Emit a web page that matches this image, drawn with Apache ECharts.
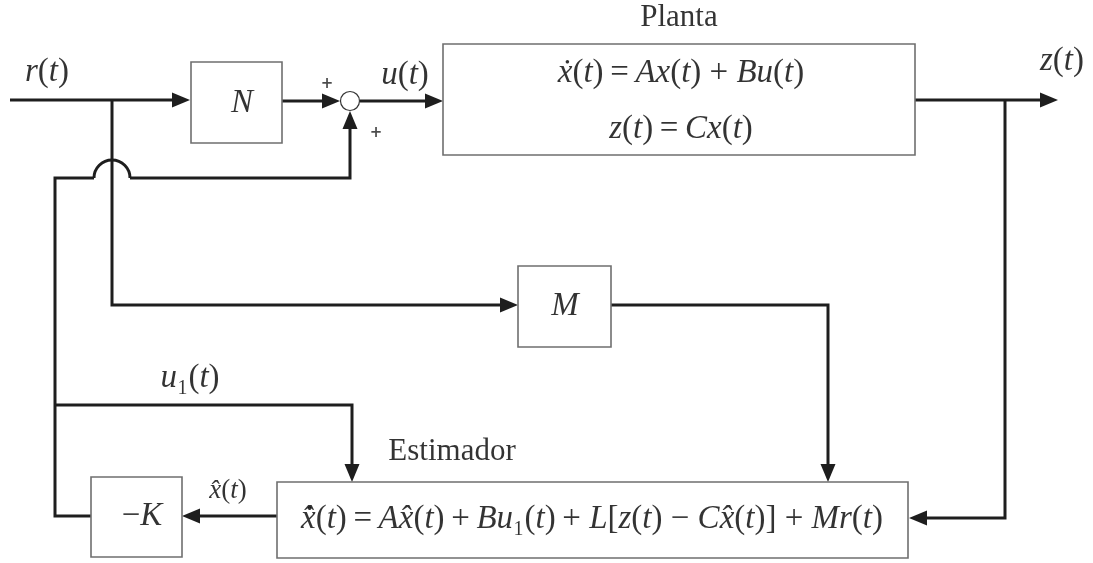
<!DOCTYPE html>
<html>
<head>
<meta charset="utf-8">
<script src="https://cdn.jsdelivr.net/npm/echarts@6/dist/echarts.min.js"></script>
<style>html,body{margin:0;padding:0;background:#fff}#c{width:1093px;height:563px}</style>
</head>
<body>
<div id="c"></div>
<script>
// ---- diagram data (in diagram coordinates, px-like units, y downward) ----
const blocks = [            // [x0, y0, x1, y1]
  [191, 62, 282, 143],      // N
  [443, 44, 915, 155],      // Planta
  [518, 266, 611, 347],     // M
  [91, 477, 182, 557],      // -K
  [277, 482, 908, 558]      // Estimador
];
const junctions = [[350, 101, 9.5]];   // summing point [cx, cy, r]
const hops = [[112, 178, 18]];         // wire crossing arc [cx, cy, r]
const wires = [                         // polylines; arrow = arrowhead at last point
  { pts: [[10, 100], [190, 100]], arrow: true },
  { pts: [[282, 101], [340, 101]], arrow: true },
  { pts: [[360, 101], [443, 101]], arrow: true },
  { pts: [[915, 100], [1058, 100]], arrow: true },
  { pts: [[1005, 100], [1005, 518], [909, 518]], arrow: true },
  { pts: [[112, 100], [112, 305], [518, 305]], arrow: true },
  { pts: [[611, 305], [828, 305], [828, 482]], arrow: true },
  { pts: [[277, 516], [182, 516]], arrow: true },
  { pts: [[91, 516], [55, 516], [55, 178], [94, 178]], arrow: false },
  { pts: [[130, 178], [350, 178], [350, 111]], arrow: true },
  { pts: [[55, 405], [352, 405], [352, 482]], arrow: true }
];
const TS = '\u2009';
const labelTexts = ['r(t)', 'N', '+', '+', 'u(t)', 'Planta',
  '\u1E8B(t)' + TS + '=' + TS + 'Ax(t) + Bu(t)', 'z(t)' + TS + '=' + TS + 'Cx(t)',
  'z(t)', 'M', 'u\u2081(t)', 'Estimador', 'x\u0302(t)', '\u2212K',
  'x\u0302\u0307(t)' + TS + '=' + TS + 'Ax\u0302(t)' + TS + '+' + TS + 'Bu\u2081(t)' + TS + '+ L[z(t) \u2212 Cx\u0302(t)] + Mr(t)'];
const labelPos = [[47, 72], [242, 103], [327, 84], [376, 133], [405, 75], [679, 18], [681, 73], [681, 129],
  [1062, 61], [565, 306], [190, 378], [452, 452], [228, 491], [142, 516], [592, 519]];
const labelKind = ['math', 'math', 'plus', 'plus', 'math', 'word', 'math', 'math',
  'math', 'math', 'math', 'word', 'mathS', 'math', 'math'];

// ---- rendering ----
const INK = '#1e1e1e', BOX = '#6f6f6f';
const SERIF = 'Liberation Serif';
const sizes = { math: 33, mathS: 27, word: 31, plus: 15 };

function mathRich(s) {
  let out = '', cur = null, buf = '';
  for (const ch of s) {
    const t = /[A-Za-z\u1E8B\u0300-\u036F]/.test(ch) ? 'i' : 'n';
    if (t !== cur) { if (buf) out += '{' + cur + '|' + buf + '}'; cur = t; buf = ''; }
    buf += ch;
  }
  if (buf) out += '{' + cur + '|' + buf + '}';
  return out;
}

const labelData = labelTexts.map((t, i) => {
  const k = labelKind[i], fs = sizes[k];
  let label;
  if (k === 'plus') {
    label = { formatter: t, fontSize: fs, fontWeight: 'bold', fontFamily: 'DejaVu Sans', color: INK };
  } else if (k === 'word') {
    label = { formatter: t, fontSize: fs, fontFamily: SERIF, color: '#000' };
  } else {
    label = {
      formatter: mathRich(t),
      rich: {
        i: { fontSize: fs, fontStyle: 'italic', fontFamily: SERIF, color: '#000' },
        n: { fontSize: fs, fontFamily: SERIF, color: '#000' }
      }
    };
  }
  return { value: labelPos[i], label: Object.assign({ show: true, position: 'inside' }, label) };
});

const AL = 18, AW = 7.5;
function wireItem(params, api) {
  const w = wires[params.dataIndex];
  const pts = w.pts.map(p => api.coord(p));
  const children = [];
  if (w.arrow) {
    const n = pts.length, tip = pts[n - 1], prev = pts[n - 2];
    const dx = tip[0] - prev[0], dy = tip[1] - prev[1], L = Math.hypot(dx, dy);
    const ux = dx / L, uy = dy / L;
    const bx = tip[0] - ux * AL, by = tip[1] - uy * AL;
    pts[n - 1] = [bx + ux * 2, by + uy * 2];
    children.push({ type: 'polyline', shape: { points: pts }, style: { stroke: INK, lineWidth: 3, fill: null, lineJoin: 'miter' } });
    children.push({ type: 'polygon', shape: { points: [tip, [bx - uy * AW, by + ux * AW], [bx + uy * AW, by - ux * AW]] }, style: { fill: INK } });
  } else {
    children.push({ type: 'polyline', shape: { points: pts }, style: { stroke: INK, lineWidth: 3, fill: null, lineJoin: 'miter' } });
  }
  return { type: 'group', children };
}

const chart = echarts.init(document.getElementById('c'));
chart.setOption({
  animation: false,
  backgroundColor: '#fff',
  grid: { left: 0, right: 0, top: 0, bottom: 0 },
  xAxis: { type: 'value', min: 0, max: 1093, show: false },
  yAxis: { type: 'value', min: 0, max: 563, inverse: true, show: false },
  series: [
    {
      type: 'custom', clip: false, z: 2,
      data: wires.map((w, i) => [w.pts[0][0], w.pts[0][1], i]),
      renderItem: wireItem
    },
    {
      type: 'custom', clip: false, z: 3,
      data: hops,
      renderItem: (params, api) => {
        const c = api.coord([api.value(0), api.value(1)]);
        const r = api.size([api.value(2), 0])[0];
        return { type: 'arc', shape: { cx: c[0], cy: c[1], r, startAngle: Math.PI, endAngle: 2 * Math.PI, clockwise: true },
          style: { stroke: INK, lineWidth: 3, fill: null } };
      }
    },
    {
      type: 'custom', clip: false, z: 4,
      data: blocks,
      renderItem: (params, api) => {
        const a = api.coord([api.value(0), api.value(1)]);
        const b = api.coord([api.value(2), api.value(3)]);
        return { type: 'rect', shape: { x: a[0], y: a[1], width: b[0] - a[0], height: b[1] - a[1] },
          style: { fill: '#fff', stroke: BOX, lineWidth: 1.6 } };
      }
    },
    {
      type: 'custom', clip: false, z: 4,
      data: junctions,
      renderItem: (params, api) => {
        const c = api.coord([api.value(0), api.value(1)]);
        const r = api.size([api.value(2), 0])[0];
        return { type: 'circle', shape: { cx: c[0], cy: c[1], r }, style: { fill: '#fff', stroke: '#333', lineWidth: 1.2 } };
      }
    },
    {
      type: 'scatter', z: 10, symbolSize: 0, silent: true,
      data: labelData
    }
  ]
});
</script>
</body>
</html>
